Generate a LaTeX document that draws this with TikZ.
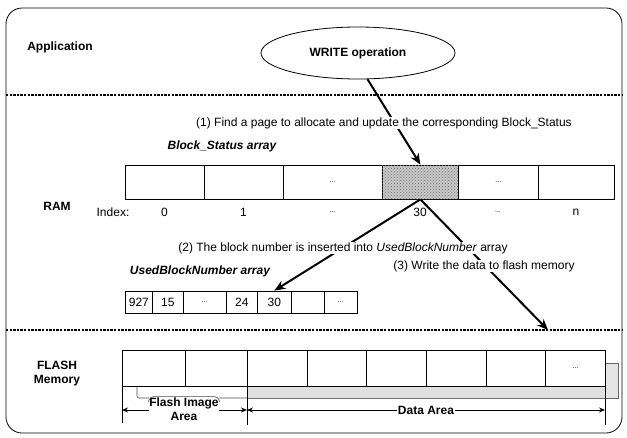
\documentclass[tikz,border=0pt]{standalone}
\usepackage{fontspec}
\setmainfont{Liberation Sans}
\usetikzlibrary{arrows.meta,shapes.geometric,patterns,calc}

\tikzset{
  txt/.style={inner sep=0.75pt, font=\fontsize{12}{14}\selectfont},
  btxt/.style={inner sep=0.75pt, font=\fontsize{12}{14}\selectfont\bfseries},
  bitxt/.style={inner sep=0.75pt, font=\fontsize{12}{14}\selectfont\bfseries\itshape},
  cell/.style={draw, line width=0.8pt, inner sep=0pt, anchor=west, font=\fontsize{12}{14}\selectfont},
  dots/.style={font=\fontsize{7}{8}\selectfont},
  bigarrow/.style={line width=2pt, -{Stealth[length=11pt,width=9pt]}},
  dotline/.style={line width=1.2pt, dash pattern=on 2.4pt off 1.2pt},
  dimarrow/.style={line width=0.7pt, {Stealth[length=6pt,width=5pt]}-{Stealth[length=6pt,width=5pt]}},
}

\begin{document}
\begin{tikzpicture}[x=1pt,y=1pt,yscale=-1,xscale=1]
\useasboundingbox (0,0) rectangle (627,437);

%Shape: Rounded Rect [id:frame]
\draw[line width=0.8pt, rounded corners=16pt] (6,8) rectangle (622,433);
%Straight Lines [id:sep1]
\draw[dotline] (6,95) -- (622,95);
%Straight Lines [id:sep2]
\draw[dotline] (6,330) -- (622,330);

% Text Node
\node[btxt] (app) at (60,47) {Application};
%Shape: Ellipse [id:write]
\node[draw, ellipse, line width=0.8pt, minimum width=194pt, minimum height=52pt, btxt] (write) at (358,53) {WRITE operation};

% Text Node
\node[bitxt] (bsname) at (222,146) {Block\_Status array};
% Text Node
\node[btxt] (ram) at (57,206) {RAM};

%Shape: Rectangle [id:bs]
\node[cell, minimum width=79pt, minimum height=34pt] (bs0) at (125,182) {};
\node[cell, minimum width=79pt, minimum height=34pt] (bs1) at (204,182) {};
\node[cell, minimum width=99pt, minimum height=34pt, dots] (bs2) at (283,182) {...};
\node[cell, minimum width=76pt, minimum height=34pt, fill=black!22, postaction={pattern=crosshatch dots, pattern color=black!55}] (bs3) at (382,182) {};
\node[cell, minimum width=80pt, minimum height=34pt, dots] (bs4) at (458,182) {...};
\node[cell, minimum width=76pt, minimum height=34pt] (bs5) at (538,182) {};

% Text Node
\node[txt] (idx) at (113,212) {Index:};
\node[txt] (idx0) at (164.5,212) {0};
\node[txt] (idx1) at (243.5,212) {1};
\node[txt, dots] (idx2) at (332.5,212) {...};
\node[txt] (idx3) at (420,212) {30};
\node[txt, dots] (idx4) at (498,212) {...};
\node[txt] (idx5) at (576,212) {n};

% Text Node
\node[bitxt] (ubname) at (200,271) {UsedBlockNumber array};

%Shape: Rectangle [id:ub]
\node[cell, minimum width=27pt, minimum height=22pt] (ub0) at (125,302) {927};
\node[cell, minimum width=31pt, minimum height=22pt] (ub1) at (152,302) {15};
\node[cell, minimum width=43pt, minimum height=22pt, dots] (ub2) at (183,302) {...};
\node[cell, minimum width=31pt, minimum height=22pt] (ub3) at (226,302) {24};
\node[cell, minimum width=34pt, minimum height=22pt] (ub4) at (257,302) {30};
\node[cell, minimum width=33pt, minimum height=22pt] (ub5) at (291,302) {};
\node[cell, minimum width=33pt, minimum height=22pt, dots] (ub6) at (324,302) {...};

% Text Node
\node[btxt, align=center] (flash) at (57,374) {FLASH\\Memory};

%Shape: Rectangle [id:band]
\fill[black!12] (247,386) rectangle (605,398);
\draw[black!55, line width=0.5pt] (247,398) -- (605,398);
\draw[black!60, line width=0.6pt, fill=black!10] (605,363) rectangle (618,398);
\draw[black!70, line width=0.6pt, rounded corners=2pt] (137,386) -- (137,398) -- (247,398);

%Shape: Rectangle [id:fl]
\node[cell, minimum width=62.5pt, minimum height=36pt] (fl0) at (122,368) {};
\node[cell, minimum width=62.5pt, minimum height=36pt] (fl1) at (184.5,368) {};
\node[cell, minimum width=59.7pt, minimum height=36pt] (fl2) at (247,368) {};
\node[cell, minimum width=59.6pt, minimum height=36pt] (fl3) at (306.7,368) {};
\node[cell, minimum width=59.7pt, minimum height=36pt] (fl4) at (366.3,368) {};
\node[cell, minimum width=59.7pt, minimum height=36pt] (fl5) at (426,368) {};
\node[cell, minimum width=59.6pt, minimum height=36pt] (fl6) at (485.7,368) {};
\node[cell, minimum width=59.7pt, minimum height=36pt, dots] (fl7) at (545.3,368) {...};

%Straight Lines [id:ticks]
\draw[line width=0.7pt] (fl0.south west) -- ++(0,37);
\draw[line width=0.7pt] (fl2.south west) -- ++(0,39);
\draw[line width=0.7pt] (fl7.south east) -- ++(0,39);
\coordinate (fa) at (122,410);
\coordinate (fb) at (247,410);
\coordinate (fc) at (605,410);
\draw[dimarrow] (fa) -- (fb);
\draw[dimarrow] (fb) -- (fc);

%Straight Lines [id:steps]
\coordinate (flin) at (548,330);
\draw[bigarrow] (write.-70) -- (bs3.north);
\draw[bigarrow] (bs3.south) -- (ub4.north);
\draw[bigarrow] (bs3.south) -- (flin);

% Text Node
\node[txt, fill=white] (lblone) at (384,123) {(1) Find a page to allocate and update the corresponding Block\_Status};
% Text Node
\node[txt, fill=white] (lbltwo) at (343,248) {(2) The block number is inserted into \textit{UsedBlockNumber} array};
% Text Node
\node[txt, fill=white] (lblthree) at (484,266) {(3) Write the data to flash memory};
% Text Node
\node[btxt, fill=white, align=center] (fimg) at (184,409) {Flash Image\\Area};
\draw[black!70, line width=0.6pt, rounded corners=3pt] ($(fimg.north west)+(0,5)$) -- ++(2,-5) -- ($(fimg.north east)+(-2,0)$) -- ++(2,5);
% Text Node
\node[btxt, fill=white] (darea) at (426,410) {Data Area};

\end{tikzpicture}
\end{document}
